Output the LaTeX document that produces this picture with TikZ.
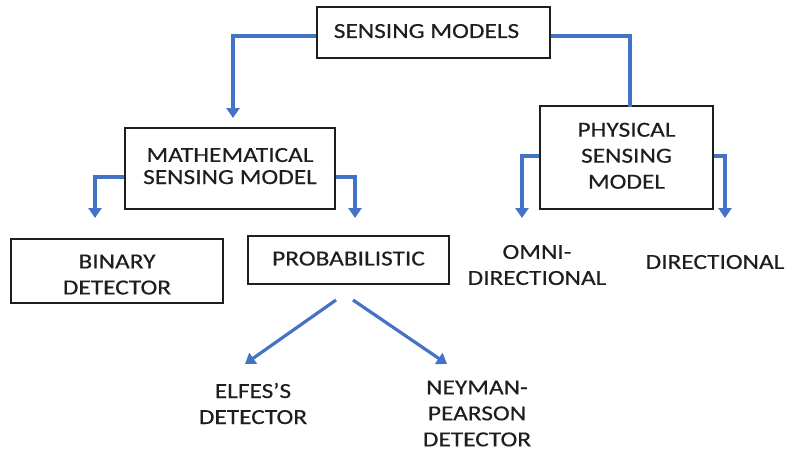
\documentclass[tikz,border=0pt]{standalone}
\usepackage{fontspec}
\setmainfont[FakeStretch=1.18,FakeBold=0.3]{Carlito}
\usetikzlibrary{arrows.meta}
\definecolor{linkblue}{RGB}{68,114,196}
\definecolor{inkgray}{RGB}{30,30,30}
\begin{document}
\begin{tikzpicture}[x=1pt,y=-1pt,
  every node/.style={font=\fontsize{21.5}{26}\selectfont, text=inkgray, align=center, inner sep=0pt},
  box/.style={draw=inkgray, line width=1.3pt},
  conn/.style={draw=linkblue, line width=3.2pt, line cap=butt,
    -{Triangle[width=13pt,length=10pt]}},
  link/.style={draw=linkblue, line width=3.2pt}]
  \useasboundingbox (0,0) rectangle (789,451);
  % boxes
  \node[box, minimum width=233pt, minimum height=51pt] (sm) at (433.5,32.5) {\raisebox{3pt}{SENSING MODELS}\hspace*{14pt}};
  \node[box, minimum width=210pt, minimum height=81pt] (math) at (230,168.5) {\raisebox{5pt}{\shortstack{MATHEMATICAL\\[5pt]SENSING MODEL}}};
  \node[box, minimum width=173pt, minimum height=103pt] (phys) at (626.5,157.5) {\raisebox{2pt}{\begin{tabular}{@{}c@{}}PHYSICAL\\SENSING\\MODEL\end{tabular}}};
  \node[box, minimum width=212pt, minimum height=64pt] (bin) at (117,271) {\rule{0pt}{21pt}BINARY\\DETECTOR};
  \node[box, minimum width=201pt, minimum height=48pt] (prob) at (348.5,260) {\raisebox{3pt}{PROBABILISTIC}};
  % free text leaves
  \node (omni) at (537,265) {OMNI-\\DIRECTIONAL};
  \node (dir) at (715,262) {DIRECTIONAL};
  \node (elfes) at (253,403.5) {ELFES'S\\DETECTOR};
  \node (neyman) at (477,413.5) {NEYMAN-\\PEARSON\\DETECTOR};
  % connector end points
  \coordinate (mathin) at (233,118);
  \coordinate (physin) at (630,107);
  \coordinate (binin) at (95,218);
  \coordinate (probin) at (355,218);
  \coordinate (omniin) at (522,218);
  \coordinate (dirin) at (725,218);
  \coordinate (probL) at (336,300);
  \coordinate (probR) at (353,300);
  \coordinate (elfesin) at (245,364);
  \coordinate (neymanin) at (447,364);
  % connectors
  \draw[conn] ([yshift=-3.5pt]sm.west) -| (mathin);
  \draw[link] ([yshift=-3.5pt]sm.east) -| (physin);
  \draw[conn] ([yshift=-8.5pt]math.west) -| (binin);
  \draw[conn] ([yshift=-8.5pt]math.east) -| (probin);
  \draw[conn] ([yshift=1.5pt]phys.west) -| (omniin);
  \draw[conn] ([yshift=1.5pt]phys.east) -| (dirin);
  \draw[conn] (probL) -- (elfesin);
  \draw[conn] (probR) -- (neymanin);
\end{tikzpicture}
\end{document}
